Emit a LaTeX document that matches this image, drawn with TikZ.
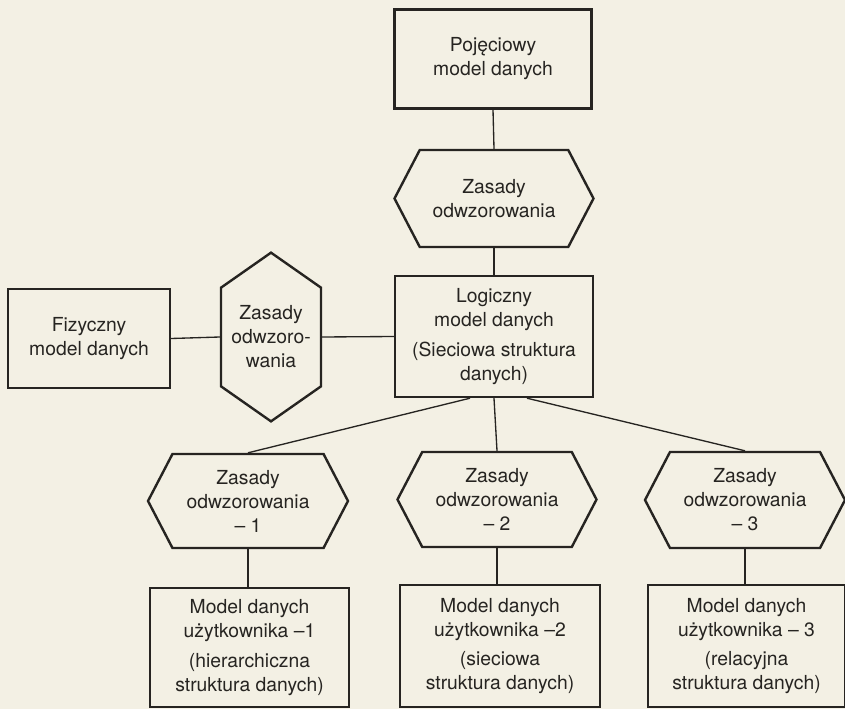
\documentclass[tikz,border=0pt]{standalone}
\usepackage{fontspec}
\setmainfont{TeX Gyre Heros}
\usetikzlibrary{shapes.symbols}
\usetikzlibrary{calc}

\definecolor{paper}{RGB}{243,240,228}
\definecolor{ink}{RGB}{38,36,33}

\tikzset{
  modelbox/.style={draw=ink, line width=1.8pt, rectangle, align=center, text=ink,
    font=\fontsize{14.5}{18}\selectfont, inner sep=2pt},
  rulehex/.style={modelbox, shape=signal, signal to=west and east, signal pointer angle=125},
  rulehexv/.style={modelbox, shape=signal, signal to=north and south, signal pointer angle=110},
  link/.style={draw=ink, line width=1pt},
}

\begin{document}
\begin{tikzpicture}[x=0.75pt,y=0.75pt,yscale=-1,xscale=1]
%paper
\fill[paper] (0,0) rectangle (845,709);
\useasboundingbox (0,0) rectangle (845,709);

%Shape: Rectangle
\node[modelbox, minimum width=147.75pt, minimum height=74.25pt] (pojec) at (493,59) {Pojęciowy\\model danych};
%Shape: Hexagon
\node[rulehex, minimum width=149.25pt, minimum height=72.75pt] (zas0) at (494,198.5) {Zasady\\odwzorowania};
%Shape: Rectangle
\node[modelbox, minimum width=148.5pt, minimum height=90.75pt] (logic) at (494,336.5) {Logiczny\\model danych\\[4pt](Sieciowa struktura\\danych)};
%Shape: Rectangle
\node[modelbox, minimum width=121.5pt, minimum height=74.25pt] (fiz) at (89,338.5) {Fizyczny\\model danych};
%Shape: Hexagon
\node[rulehexv, minimum width=75pt, minimum height=118.5pt] (zasL) at (271,337) {Zasady\\odwzoro-\\wania};

%Shape: Hexagon
\node[rulehex, minimum width=150pt, minimum height=70.5pt] (zas1) at (248,501) {Zasady\\odwzorowania\\-- 1};
\node[rulehex, minimum width=149.25pt, minimum height=71.25pt] (zas2) at (497,499.5) {Zasady\\odwzorowania\\-- 2};
\node[rulehex, minimum width=150pt, minimum height=72pt] (zas3) at (745,500) {Zasady\\odwzorowania\\-- 3};

%Shape: Rectangle
\node[modelbox, minimum width=149.25pt, minimum height=89.25pt] (mod1) at (249.5,647.5) {Model danych\\użytkownika --1\\[4pt](hierarchiczna\\struktura danych)};
\node[modelbox, minimum width=150pt, minimum height=91.5pt] (mod2) at (500,646) {Model danych\\użytkownika --2\\[4pt](sieciowa\\struktura danych)};
\node[modelbox, minimum width=147.75pt, minimum height=91.5pt] (mod3) at (746.5,646) {Model danych\\użytkownika -- 3\\[4pt](relacyjna\\struktura danych)};

%Straight Lines
\draw[link] (pojec.south) -- (zas0.north);
\draw[link] (zas0.south) -- (logic.north);
\draw[link] (fiz.east) -- (zasL.west);
\draw[link] (zasL.east) -- (logic.west);
\draw[link] ($(logic.south)+(-24,0)$) -- (zas1.north);
\draw[link] (logic.south) -- (zas2.north);
\draw[link] ($(logic.south)+(33,0)$) -- (zas3.north);
\draw[link] (zas1.south) -- (zas1.south |- mod1.north);
\draw[link] (zas2.south) -- (zas2.south |- mod2.north);
\draw[link] (zas3.south) -- (zas3.south |- mod3.north);

\end{tikzpicture}
\end{document}
